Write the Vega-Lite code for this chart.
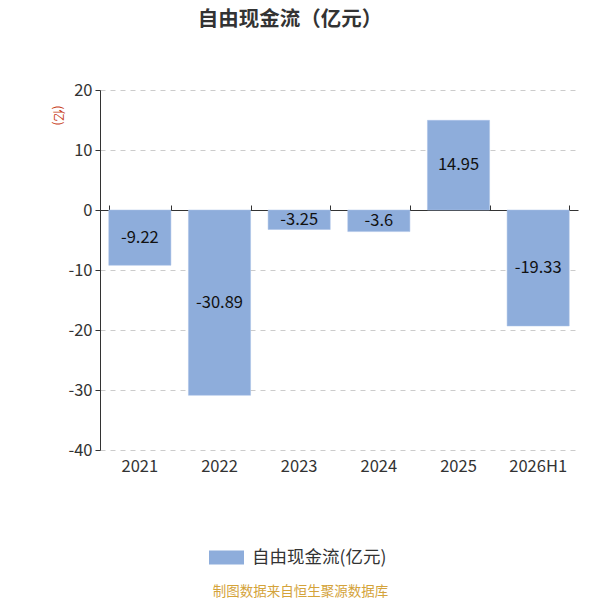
{
  "$schema": "https://vega.github.io/schema/vega-lite/v6.json",
  "autosize": "none",
  "width": 478,
  "height": 360,
  "padding": {"left": 100, "top": 90, "right": 22, "bottom": 150},
  "title": {
    "text": "自由现金流（亿元）",
    "anchor": "middle",
    "dx": -49,
    "offset": 52,
    "fontSize": 20.5,
    "fontWeight": "bold",
    "color": "#333333",
    "font": "Noto Sans CJK SC"
  },
  "data": {
    "values": [
      {"year": "2021", "value": -9.22},
      {"year": "2022", "value": -30.89},
      {"year": "2023", "value": -3.25},
      {"year": "2024", "value": -3.6},
      {"year": "2025", "value": 14.95},
      {"year": "2026H1", "value": -19.33}
    ]
  },
  "layer": [
    {
      "mark": {"type": "bar", "stroke": "#a9c1e6", "strokeWidth": 0.5},
      "encoding": {
        "x": {
          "field": "year",
          "type": "nominal",
          "sort": null,
          "scale": {"paddingInner": 0.22, "paddingOuter": 0.11},
          "axis": {
            "orient": "bottom",
            "domain": false,
            "ticks": false,
            "grid": false,
            "labelAngle": 0,
            "labelPadding": 8,
            "labelFontSize": 16.5,
            "labelColor": "#333333",
            "labelFont": "Noto Sans CJK SC",
            "title": "制图数据来自恒生聚源数据库",
            "titleX": 200,
            "titleY": 141,
            "titleBaseline": "middle",
            "titleFontSize": 13.5,
            "titleFontWeight": "normal",
            "titleColor": "#d4a33a",
            "titleFont": "Noto Sans CJK SC"
          }
        },
        "y": {
          "field": "value",
          "type": "quantitative",
          "scale": {"domain": [-40, 20], "nice": false},
          "axis": {
            "values": [-40, -30, -20, -10, 0, 10, 20],
            "labelExpr": "datum.value + ''",
            "grid": true,
            "domainColor": "#333333",
            "tickColor": "#333333",
            "tickSize": 5,
            "labelFontSize": 16.5,
            "labelColor": "#333333",
            "labelPadding": 3,
            "labelFont": "Noto Sans CJK SC",
            "gridColor": "#cccccc",
            "gridDash": [5, 5],
            "title": "(亿)",
            "titleAngle": 90,
            "titleX": -43,
            "titleY": 25,
            "titleAlign": "center",
            "titleBaseline": "middle",
            "titleFontSize": 12,
            "titleFontWeight": "normal",
            "titleColor": "#c8401a",
            "titleFont": "Noto Sans CJK SC"
          }
        },
        "color": {
          "datum": "自由现金流(亿元)",
          "type": "nominal",
          "scale": {"range": ["#8eaddb"]},
          "legend": {
            "orient": "none",
            "legendX": 109,
            "legendY": 450,
            "title": null,
            "symbolType": "M-1,-0.4 L1,-0.4 L1,0.4 L-1,0.4 Z",
            "symbolSize": 1225,
            "symbolStrokeWidth": 0,
            "labelFontSize": 17.5,
            "labelColor": "#333333",
            "labelFont": "Noto Sans CJK SC",
            "labelOffset": 8
          }
        }
      }
    },
    {
      "transform": [{"calculate": "datum.value / 2", "as": "mid"}],
      "mark": {
        "type": "text",
        "fontSize": 16.5,
        "color": "#111111",
        "font": "Noto Sans CJK SC",
        "baseline": "middle"
      },
      "encoding": {
        "x": {
          "field": "year",
          "type": "nominal",
          "sort": null,
          "axis": {
            "orient": "top",
            "offset": -120,
            "labels": false,
            "grid": false,
            "domainColor": "#333333",
            "tickColor": "#333333",
            "tickSize": 5,
            "tickBand": "extent",
            "title": null
          }
        },
        "y": {"field": "mid", "type": "quantitative", "axis": null},
        "text": {"field": "value", "type": "nominal"}
      }
    }
  ],
  "resolve": {"axis": {"x": "independent", "y": "independent"}},
  "config": {
    "view": {"stroke": null}
  }
}
